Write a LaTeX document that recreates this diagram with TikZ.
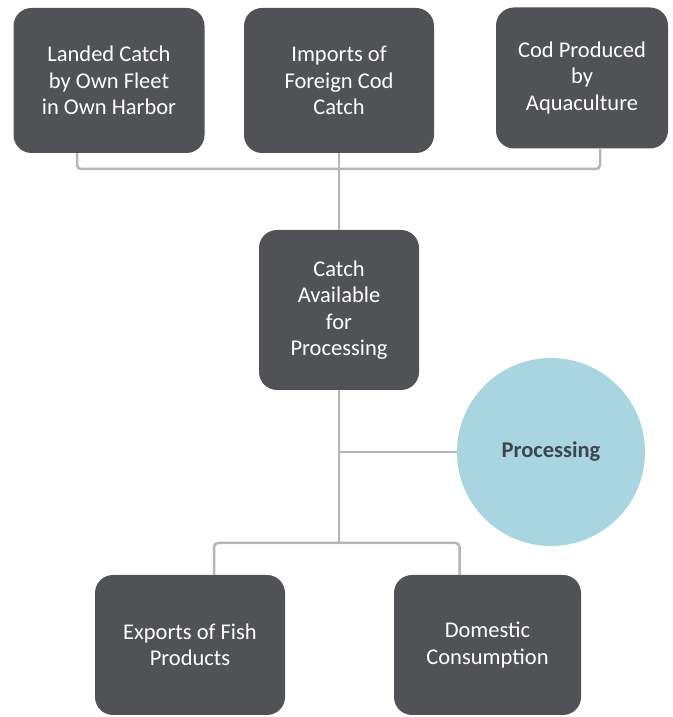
\documentclass[tikz,border=0pt]{standalone}
\usepackage{fontspec}
\setmainfont{Carlito}
\usepackage{tikz}
\usetikzlibrary{positioning}
\definecolor{boxgray}{HTML}{505255}
\definecolor{linkgray}{HTML}{B5B5B5}
\definecolor{procblue}{HTML}{A8D5E0}
\definecolor{proctext}{HTML}{3C474C}

\begin{document}
\begin{tikzpicture}[
    x=1pt, y=1pt,
    font=\fontsize{22.5}{26.5}\selectfont,
    block/.style={fill=boxgray, text=white, rounded corners=18pt, align=center, inner sep=2pt},
    source/.style={block, minimum width=191pt, minimum height=145pt},
    middle/.style={block, minimum width=160pt, minimum height=160pt},
    sink/.style={block, minimum width=189pt, minimum height=140pt},
    proc/.style={circle, fill=procblue, text=proctext, font=\fontsize{22.5}{26.5}\selectfont\bfseries, minimum size=188pt, inner sep=0pt},
    link/.style={draw=linkgray, line width=2.5pt, rounded corners=4pt}
]
\useasboundingbox (0,0) rectangle (672,717);

% Sources (top row)
\node[source] (landed) at (109,636.5) {Landed Catch\\by Own Fleet\\in Own Harbor};
\node[source, minimum width=190pt] (imports) at (339,636.5) {Imports of\\Foreign Cod\\Catch};
\node[source, minimum width=172pt, minimum height=141pt] (aqua) at (582,639) {Cod Produced\\by\\Aquaculture};

% Middle
\node[middle] (catch) at (339,407) {Catch\\Available\\for\\Processing};
\node[proc] (processing) at (551,265) {Processing};

% Sinks (bottom row)
\node[sink, minimum width=190pt] (exports) at (190,72) {Exports of Fish\\Products};
\node[sink, minimum width=187pt] (domestic) at (487.5,72) {Domestic\\Consumption};

% Junctions
\coordinate (topbar) at (339,548);
\coordinate (fork) at (339,174);

% Sources into catch
\draw[link] ([xshift=-32pt]landed.south) |- (topbar) -| ([xshift=18pt]aqua.south);
\draw[link] (imports.south) -- (catch.north);

% Catch to processing and sinks
\draw[link] (catch.south |- processing.west) -- (processing.west);
\draw[link] (catch.south) -- (fork);
\draw[link] (fork) -| ([xshift=24pt]exports.north);
\draw[link] (fork) -| ([xshift=-28pt]domestic.north);

\end{tikzpicture}
\end{document}
